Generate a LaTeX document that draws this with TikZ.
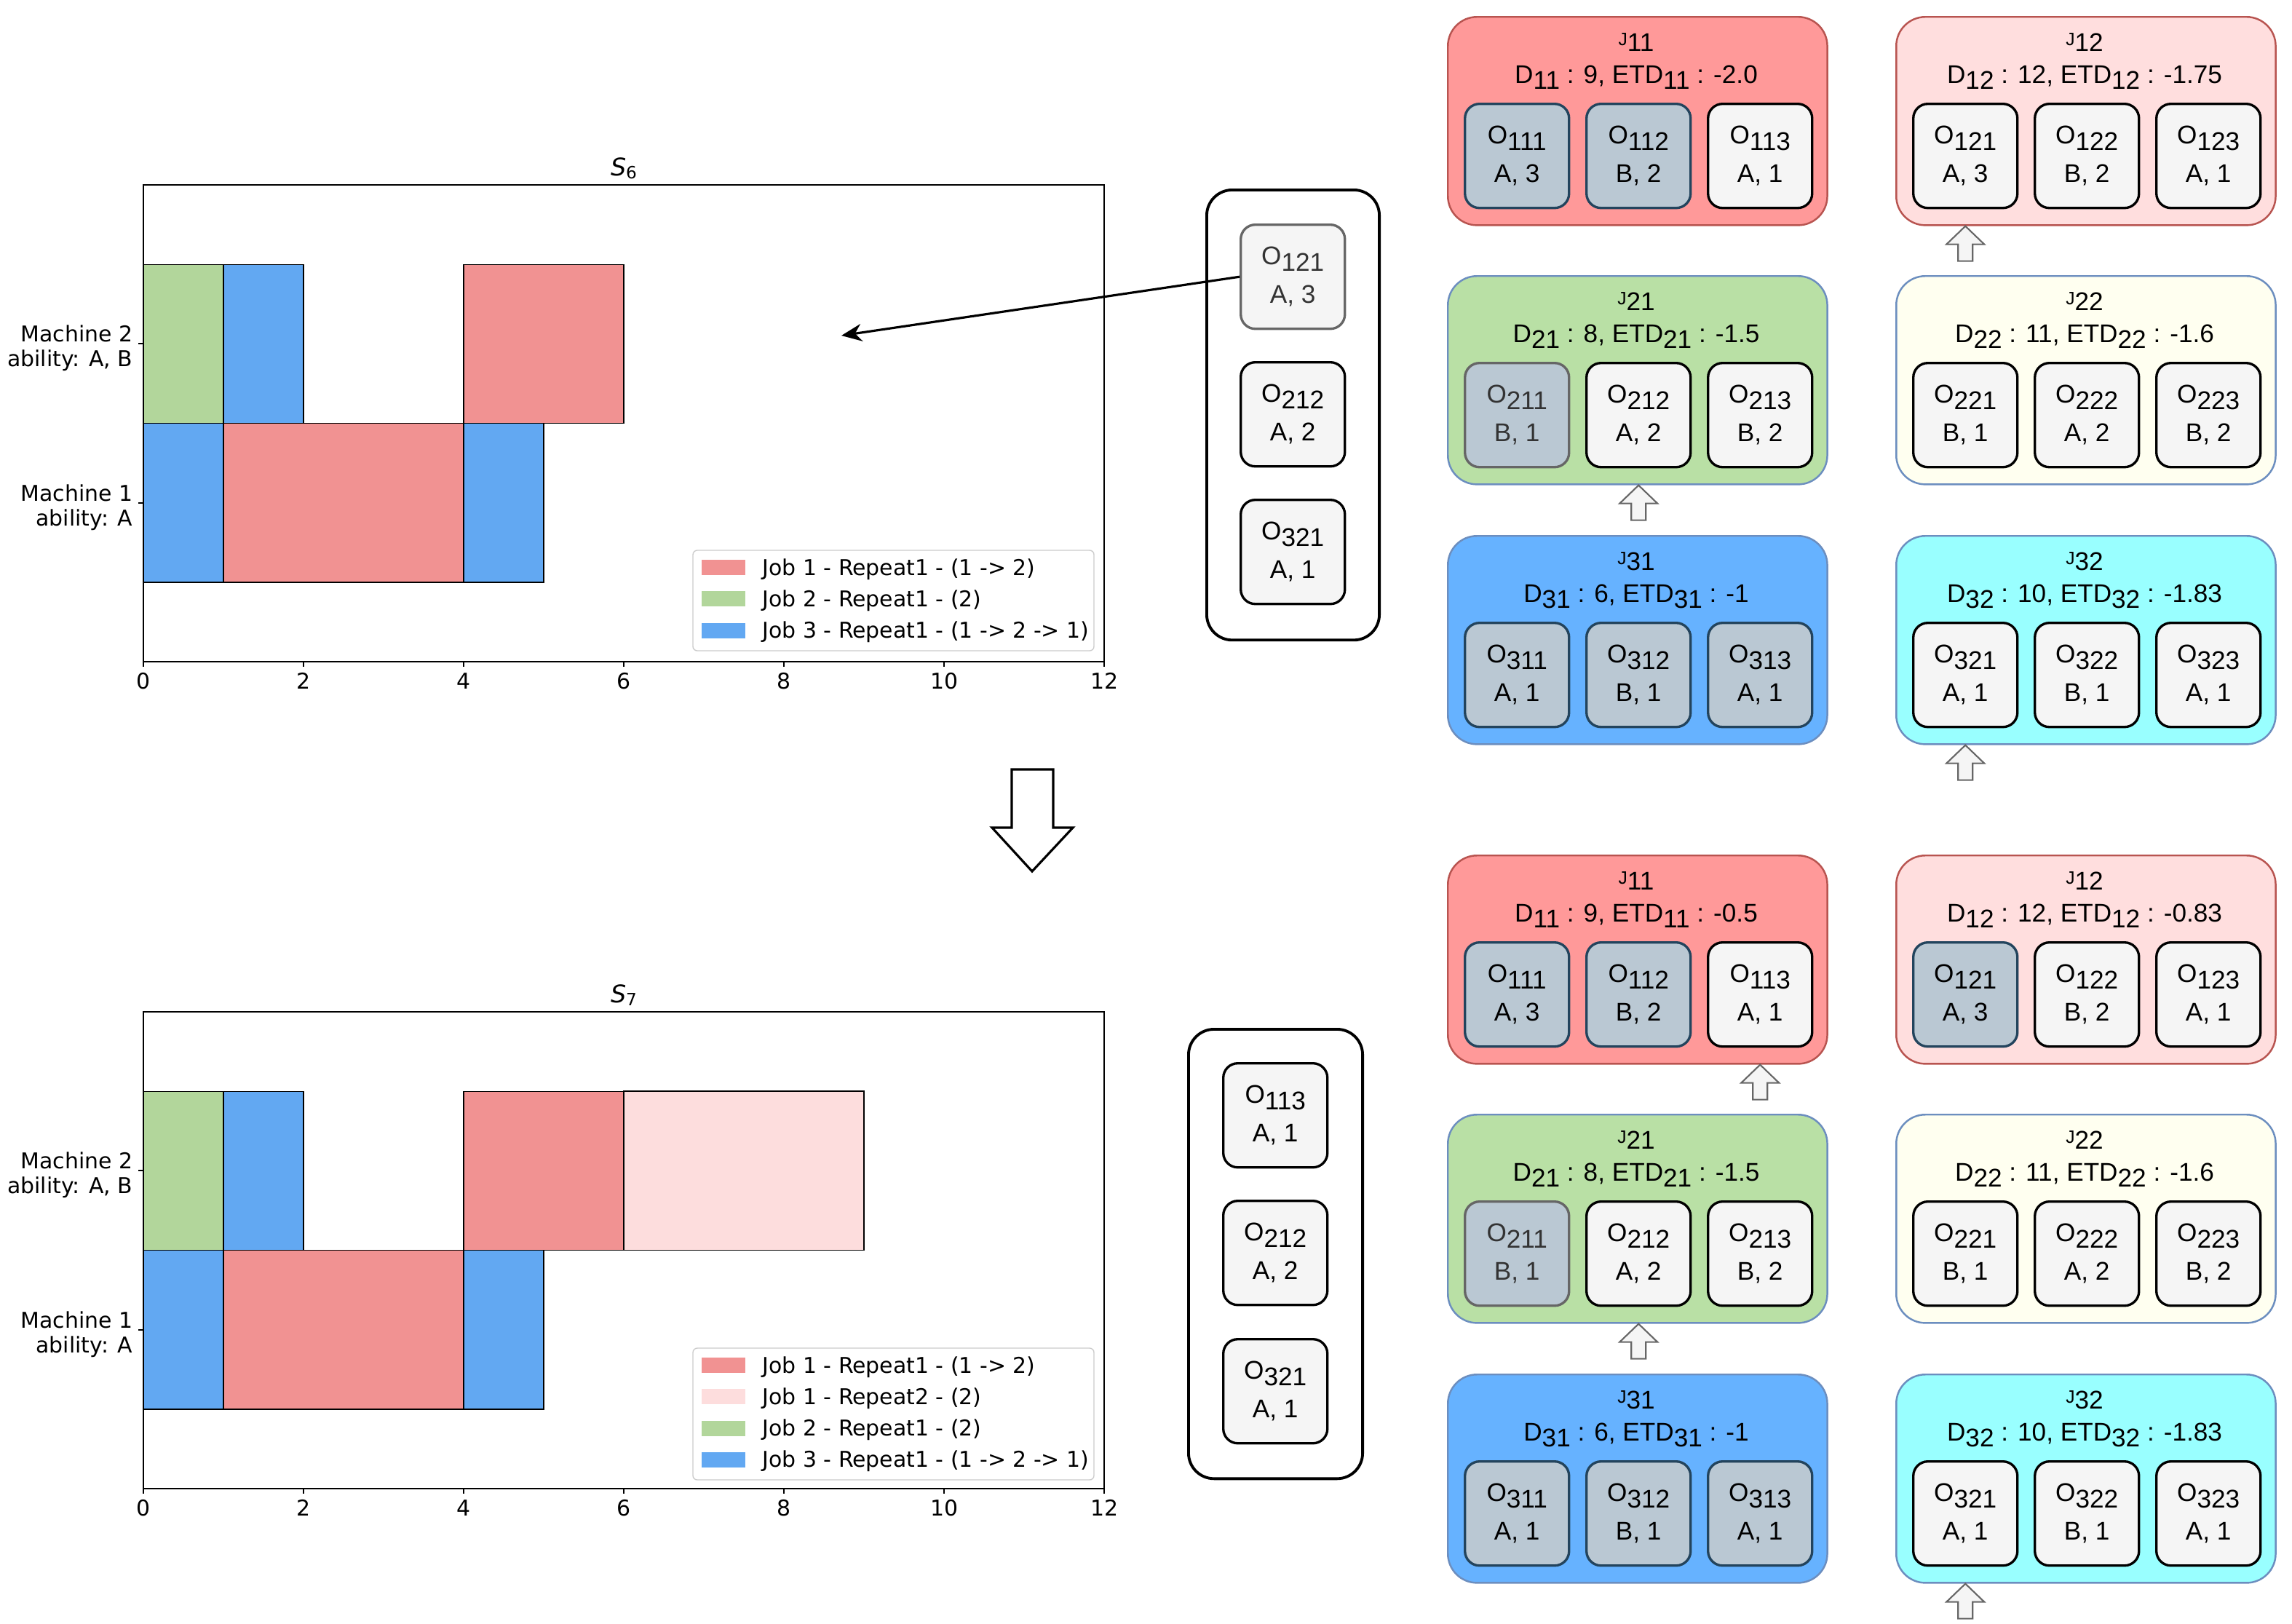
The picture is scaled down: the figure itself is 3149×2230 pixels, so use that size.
\documentclass[tikz,border=0pt]{standalone}
\usepackage{fontspec}
\setmainfont{Liberation Sans}
\newfontfamily\chartfont{DejaVu Sans}
\usetikzlibrary{arrows.meta}

\definecolor{jobone}{HTML}{F19292}
\definecolor{jobonetwo}{HTML}{FDDDDD}
\definecolor{jobtwo}{HTML}{B2D69B}
\definecolor{jobthree}{HTML}{62A8F2}
\definecolor{redfill}{HTML}{FF9999}
\definecolor{pinkfill}{HTML}{FFDEDE}
\definecolor{redline}{HTML}{B85450}
\definecolor{greenfill}{HTML}{B9E0A5}
\definecolor{creamfill}{HTML}{FFFFF0}
\definecolor{bluefill}{HTML}{66B2FF}
\definecolor{cyanfill}{HTML}{99FFFF}
\definecolor{blueline}{HTML}{6C8EBF}
\definecolor{opfill}{HTML}{F5F5F5}
\definecolor{donefill}{HTML}{BAC8D3}
\definecolor{doneline}{HTML}{23445D}
\definecolor{greyline}{HTML}{666666}
\definecolor{greytext}{HTML}{333333}

\newcommand{\lowsub}[1]{\raisebox{-0.25em}{#1}}
\def\grp{a}

\tikzset{
  jobbox/.style={rounded corners=0.4cm, minimum width=5.21cm, minimum height=2.86cm, line width=0.7pt},
  redjob/.style={jobbox, fill=redfill, draw=redline},
  pinkjob/.style={jobbox, fill=pinkfill, draw=redline},
  greenjob/.style={jobbox, fill=greenfill, draw=blueline},
  creamjob/.style={jobbox, fill=creamfill, draw=blueline},
  bluejob/.style={jobbox, fill=bluefill, draw=blueline},
  cyanjob/.style={jobbox, fill=cyanfill, draw=blueline},
  jobtext/.style={anchor=base, inner sep=0pt, font=\fontsize{10}{12}\selectfont},
  op/.style={draw=black, fill=opfill, line width=0.95pt, rounded corners=0.2cm, minimum width=1.43cm, minimum height=1.43cm, inner sep=0pt, align=center, font=\fontsize{10}{15}\selectfont},
  opdone/.style={op, fill=donefill, draw=doneline},
  opgrey/.style={op, fill=donefill, draw=greyline, text=greytext},
  opsel/.style={op, draw=greyline, text=greytext},
  listbox/.style={draw=black, line width=1.1pt, rounded corners=0.35cm},
  uparrow/.style={draw=greyline, fill=opfill, line width=0.6pt},
  bigarrow/.style={draw=black, fill=white, line width=0.9pt},
  pick/.style={-{Stealth[length=0.28cm, width=0.24cm]}, line width=0.9pt},
  bar/.style={draw=black, line width=0.4pt},
  axisline/.style={line width=0.5pt},
  legendbox/.style={draw=black!20, fill=white, line width=0.4pt, rounded corners=0.06cm},
  chartlab/.style={inner sep=0pt, font=\chartfont\fontsize{8.5}{9.7}\selectfont}
}

\newcommand{\job}[5]{%
  \node[#2, anchor=north west] (j#1\grp) at (#3,#4) {};
  \node[jobtext] (j#1\grp t) at (#3+260,#4+40) {{\fontsize{7}{8}\selectfont J}\lowsub{#1}};
  \node[jobtext] (j#1\grp d) at (#3+260,#4+92) {#5};
}
\newcommand{\ops}[4]{%
  \foreach \st/\tx [count=\k] in {#4}
    \node[\st, anchor=north west] (o#1\k\grp) at (#2+23+167*\k-167,#3+119) {O\lowsub{#1\k}\\\tx};
}
\newcommand{\uparr}[1]{\draw[uparrow] #1 -- ++(26,25) -- ++(-16,0) -- ++(0,23) -- ++(-20,0) -- ++(0,-23) -- ++(-16,0) -- cycle;}

\begin{document}
\begin{tikzpicture}[x=0.01cm, y=-0.01cm]
  \useasboundingbox (0,0) rectangle (3149,2230);

  \foreach \oy/\sn in {0/6, 1136/7}{
    \begin{scope}[shift={(0,\oy)}]
      \foreach \c/\a/\b/\r in {jobtwo/0/1/2, jobthree/1/2/2, jobone/4/6/2, jobthree/0/1/1, jobone/1/4/1, jobthree/4/5/1}
        \draw[bar, fill=\c] (197+110*\a,909-218.3*\r-109.2) rectangle (197+110*\b,909-218.3*\r+109.2);
      \draw[axisline] (197,254) rectangle (1517,909);
      \foreach \t in {0,2,...,12}{
        \draw[axisline] (197+110*\t,909) -- ++(0,7);
        \node[chartlab, anchor=base] (tick\sn\t) at (197+110*\t,946) {\t};
      }
      \draw[axisline] (190,472) -- (197,472);
      \draw[axisline] (190,691) -- (197,691);
      \node[chartlab, anchor=east, align=right] (mtwo\sn) at (183,478) {Machine 2\\ability: A, B};
      \node[chartlab, anchor=east, align=right] (mone\sn) at (183,697) {Machine 1\\ability: A};
      \node[anchor=base, inner sep=0pt] (title\sn) at (857,241) {\chartfont\fontsize{9.5}{11}\selectfont\textit{S}{\fontsize{6.6}{7}\selectfont\raisebox{-1.2pt}{\sn}}};
    \end{scope}
  }
  \draw[bar, fill=jobonetwo] (857,1499) rectangle (1187,1717.5);

  \draw[legendbox] (952,756) rectangle (1503,894);
  \foreach \c/\txt [count=\i from 0] in {jobone/{Job 1 - Repeat1 - (1 -> 2)}, jobtwo/{Job 2 - Repeat1 - (2)}, jobthree/{Job 3 - Repeat1 - (1 -> 2 -> 1)}}{
    \fill[\c] (964,769+43.3*\i) rectangle (1024,790+43.3*\i);
    \node[chartlab, anchor=base west] (lega\i) at (1047,790+43.3*\i) {\txt};
  }
  \draw[legendbox] (952,1852) rectangle (1503,2033);
  \foreach \c/\txt [count=\i from 0] in {jobone/{Job 1 - Repeat1 - (1 -> 2)}, jobonetwo/{Job 1 - Repeat2 - (2)}, jobtwo/{Job 2 - Repeat1 - (2)}, jobthree/{Job 3 - Repeat1 - (1 -> 2 -> 1)}}{
    \fill[\c] (964,1865+43.3*\i) rectangle (1024,1886+43.3*\i);
    \node[chartlab, anchor=base west] (legb\i) at (1047,1886+43.3*\i) {\txt};
  }

  \draw[bigarrow] (1390,1057) -- (1447,1057) -- (1447,1137) -- (1474,1137) -- (1418,1197) -- (1363,1137) -- (1390,1137) -- cycle;

  \node[listbox, minimum width=2.37cm, minimum height=6.18cm, anchor=north west] (lista) at (1656,259) {};
  \node[opsel, anchor=north west] (o121l) at (1703,307) {O\lowsub{121}\\A, 3};
  \node[op, anchor=north west] (o212l) at (1703,496) {O\lowsub{212}\\A, 2};
  \node[op, anchor=north west] (o321l) at (1703,685) {O\lowsub{321}\\A, 1};
  \coordinate (slot) at (1156,461);
  \draw[pick] (o121l.west) -- (slot);

  \node[listbox, minimum width=2.39cm, minimum height=6.17cm, anchor=north west] (listb) at (1631,1412) {};
  \node[op, anchor=north west] (o113m) at (1679,1459) {O\lowsub{113}\\A, 1};
  \node[op, anchor=north west] (o212m) at (1679,1648) {O\lowsub{212}\\A, 2};
  \node[op, anchor=north west] (o321m) at (1679,1838) {O\lowsub{321}\\A, 1};

  \def\grp{a}
  \job{11}{redjob}{1988}{22}{D\lowsub{11} : 9, ETD\lowsub{11} : -2.0}
  \ops{11}{1988}{22}{opdone/{A, 3}, opdone/{B, 2}, op/{A, 1}}
  \job{12}{pinkjob}{2604}{22}{D\lowsub{12} : 12, ETD\lowsub{12} : -1.75}
  \ops{12}{2604}{22}{op/{A, 3}, op/{B, 2}, op/{A, 1}}
  \job{21}{greenjob}{1988}{378}{D\lowsub{21} : 8, ETD\lowsub{21} : -1.5}
  \ops{21}{1988}{378}{opgrey/{B, 1}, op/{A, 2}, op/{B, 2}}
  \job{22}{creamjob}{2604}{378}{D\lowsub{22} : 11, ETD\lowsub{22} : -1.6}
  \ops{22}{2604}{378}{op/{B, 1}, op/{A, 2}, op/{B, 2}}
  \job{31}{bluejob}{1988}{735}{D\lowsub{31} : 6, ETD\lowsub{31} : -1}
  \ops{31}{1988}{735}{opdone/{A, 1}, opdone/{B, 1}, opdone/{A, 1}}
  \job{32}{cyanjob}{2604}{735}{D\lowsub{32} : 10, ETD\lowsub{32} : -1.83}
  \ops{32}{2604}{735}{op/{A, 1}, op/{B, 1}, op/{A, 1}}
  \uparr{(o121a |- j12a.south)}
  \uparr{(o212a |- j21a.south)}
  \uparr{(o321a |- j32a.south)}

  \def\grp{b}
  \job{11}{redjob}{1988}{1174}{D\lowsub{11} : 9, ETD\lowsub{11} : -0.5}
  \ops{11}{1988}{1174}{opdone/{A, 3}, opdone/{B, 2}, op/{A, 1}}
  \job{12}{pinkjob}{2604}{1174}{D\lowsub{12} : 12, ETD\lowsub{12} : -0.83}
  \ops{12}{2604}{1174}{opdone/{A, 3}, op/{B, 2}, op/{A, 1}}
  \job{21}{greenjob}{1988}{1530}{D\lowsub{21} : 8, ETD\lowsub{21} : -1.5}
  \ops{21}{1988}{1530}{opgrey/{B, 1}, op/{A, 2}, op/{B, 2}}
  \job{22}{creamjob}{2604}{1530}{D\lowsub{22} : 11, ETD\lowsub{22} : -1.6}
  \ops{22}{2604}{1530}{op/{B, 1}, op/{A, 2}, op/{B, 2}}
  \job{31}{bluejob}{1988}{1887}{D\lowsub{31} : 6, ETD\lowsub{31} : -1}
  \ops{31}{1988}{1887}{opdone/{A, 1}, opdone/{B, 1}, opdone/{A, 1}}
  \job{32}{cyanjob}{2604}{1887}{D\lowsub{32} : 10, ETD\lowsub{32} : -1.83}
  \ops{32}{2604}{1887}{op/{A, 1}, op/{B, 1}, op/{A, 1}}
  \uparr{(o113b |- j11b.south)}
  \uparr{(o212b |- j21b.south)}
  \uparr{(o321b |- j32b.south)}
\end{tikzpicture}
\end{document}
